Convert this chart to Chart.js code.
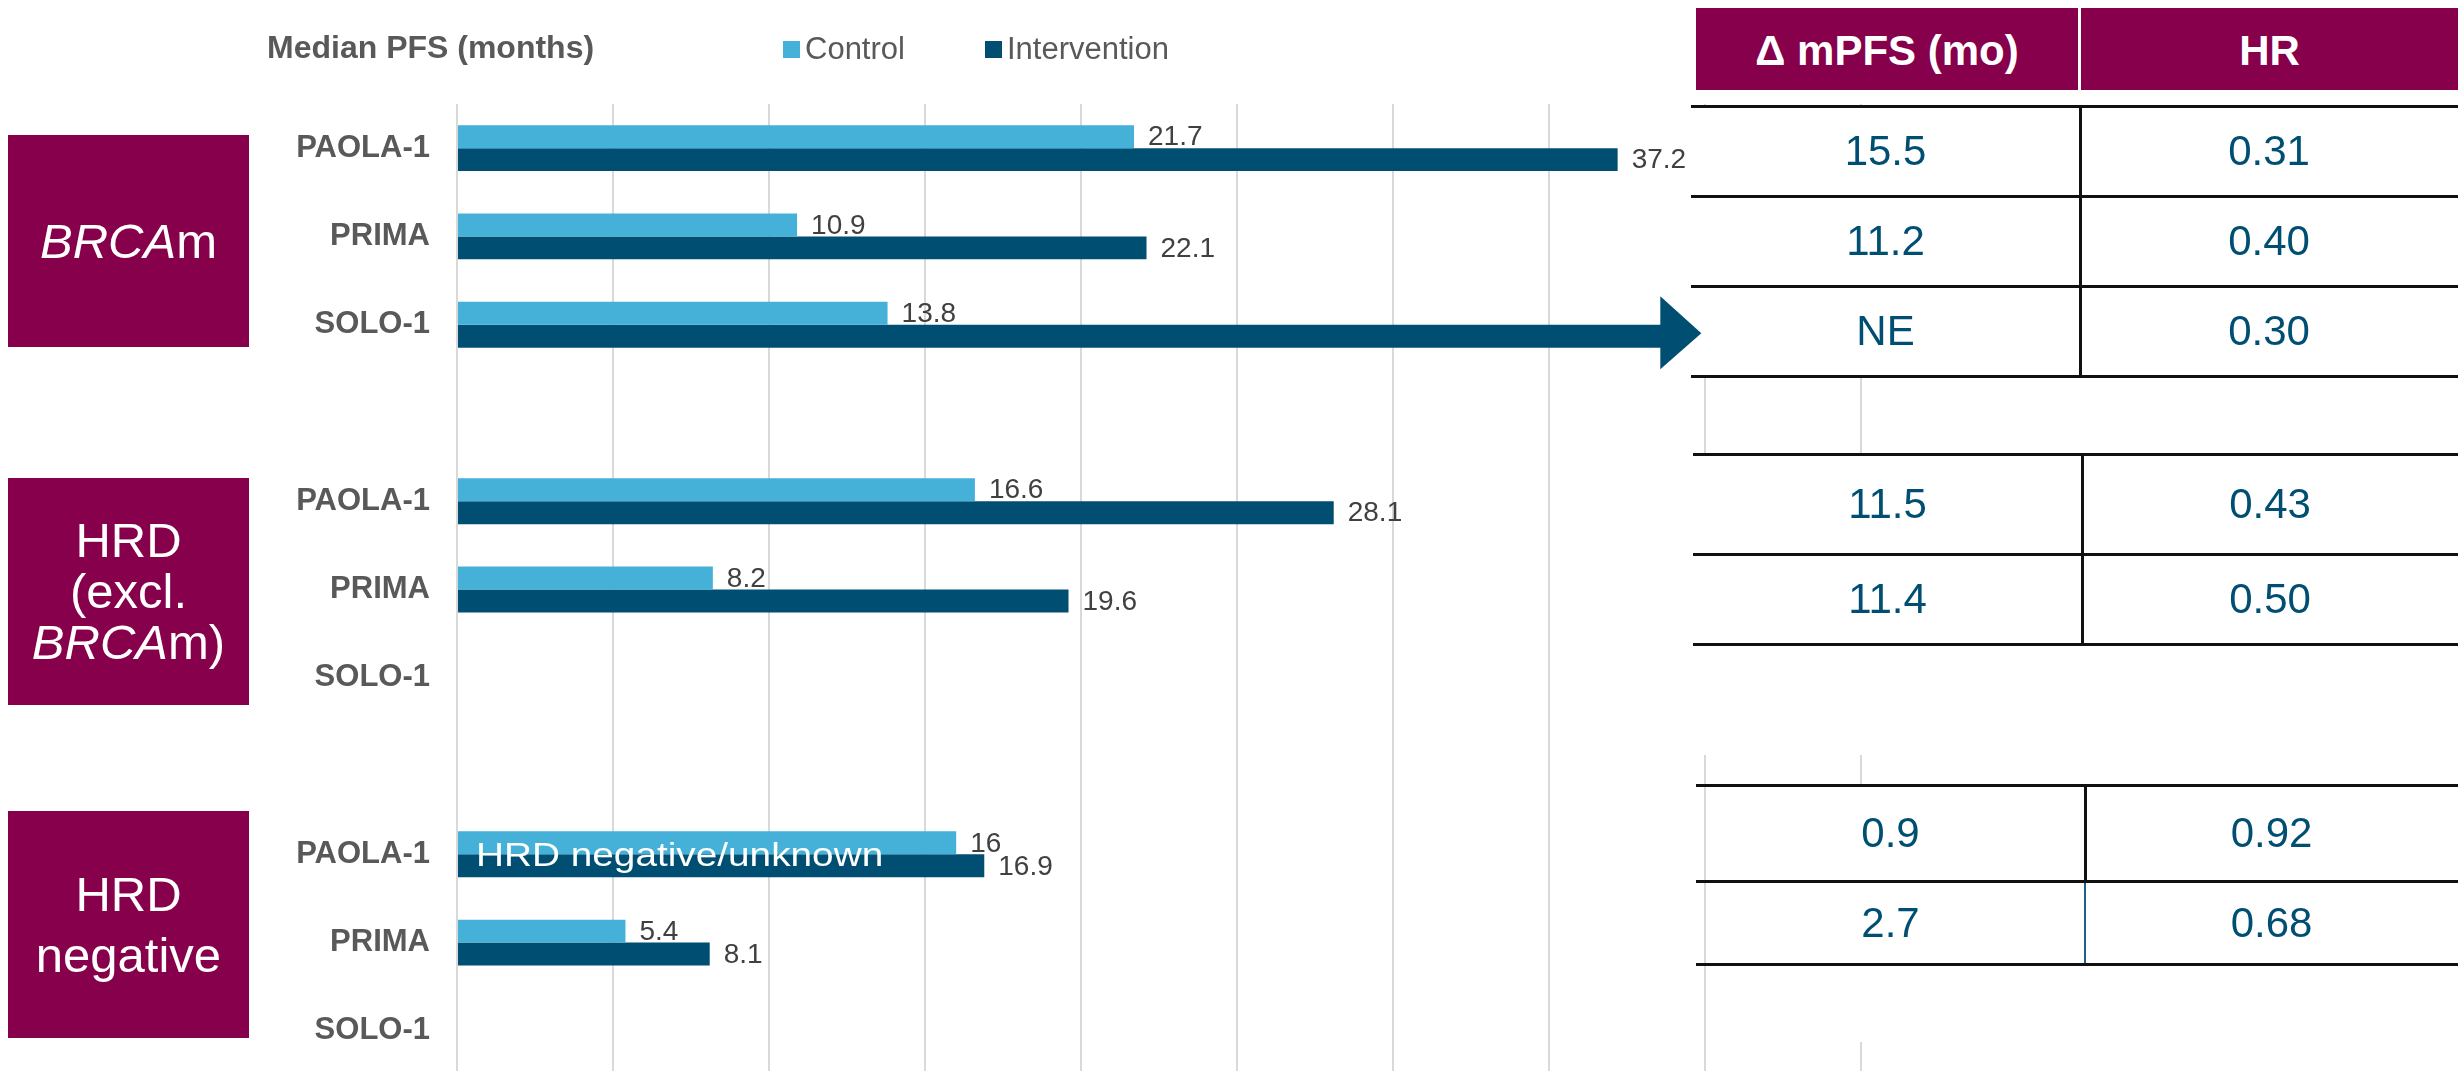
<!DOCTYPE html>
<html>
<head>
<meta charset="utf-8">
<script src="https://cdn.jsdelivr.net/npm/chart.js@4.4.0/dist/chart.umd.min.js"></script>
<style>
  body {
    margin: 0;
    width: 2458px;
    height: 1071px;
    overflow: hidden;
    background: #fff;
    position: relative;
    font-family: "Liberation Sans", Arial, sans-serif;
  }
  #chart { position: absolute; left: 0; top: 0; }
  .abs { position: absolute; }
  .group-box {
    position: absolute;
    left: 8px;
    width: 241px;
    background: #86004c;
    color: #fff;
    font-size: 49px;
    display: flex;
    align-items: center;
    justify-content: center;
    text-align: center;
  }
  .title { font-weight: bold; font-size: 32px; line-height: 32px; color: #595959; white-space: nowrap; }
  .legend-text { font-size: 31px; line-height: 31px; color: #595959; white-space: nowrap; }
  .legend-box { width: 17px; height: 17px; }
  .head {
    background: #86004c;
    color: #fff;
    font-weight: bold;
    font-size: 42px;
    text-align: center;
    box-sizing: border-box;
    padding-top: 3px;
  }
  .cell { text-align: center; font-size: 42px; color: #004f73; white-space: nowrap; }
  .rule { background: #111; }
  .note {
    color: #fff;
    font-size: 34px;
    line-height: 34px;
    white-space: nowrap;
    transform: scaleX(1.14);
    transform-origin: left center;
  }
</style>
</head>
<body>
<canvas id="chart" width="2458" height="1076"></canvas>

<div class="group-box" style="top:135px;height:212px;line-height:55px;"><span><i>BRCA</i>m</span></div>
<div class="group-box" style="top:478px;height:227px;line-height:51px;"><span>HRD<br>(excl.<br><i>BRCA</i>m)</span></div>
<div class="group-box" style="top:811px;height:227px;line-height:61px;"><span>HRD<br>negative</span></div>

<div class="abs title" style="left:267px;top:31px;">Median PFS (months)</div>
<div id="legend"></div>
<div id="table"></div>
<div class="abs note" style="left:476px;top:837px;">HRD negative/unknown</div>

<script>
const categories = ['PAOLA-1', 'PRIMA', 'SOLO-1', '', 'PAOLA-1', 'PRIMA', 'SOLO-1', '', 'PAOLA-1', 'PRIMA', 'SOLO-1'];
const controlPfs = [21.7, 10.9, 13.8, null, 16.6, 8.2, null, null, 16, 5.4, null];
const interventionPfs = [37.2, 22.1, 38.6, null, 28.1, 19.6, null, null, 16.9, 8.1, null];
// median not reached -> bar ends in an arrow, no label
const notReached = [false, false, true, false, false, false, false, false, false, false, false];
const axisMax = 45;
const axisStep = 5;

// right-hand table, one list per block
const tableHeaders = ['Δ mPFS (mo)', 'HR'];
const deltaPfs = [['15.5', '11.2', 'NE'], ['11.5', '11.4'], ['0.9', '2.7']];
const hazardRatios = [['0.31', '0.40', '0.30'], ['0.43', '0.50'], ['0.92', '0.68']];

const CONTROL_COLOR = '#45b1d8';
const INTERVENTION_COLOR = '#004f73';
const FONT = '"Liberation Sans", Arial, sans-serif';

// legend
const legend = document.getElementById('legend');
[['Control', CONTROL_COLOR, 783], ['Intervention', INTERVENTION_COLOR, 985]].forEach(([name, color, x]) => {
  const box = document.createElement('div');
  box.className = 'abs legend-box';
  box.style.cssText = `left:${x}px;top:41px;background:${color};`;
  const text = document.createElement('div');
  text.className = 'abs legend-text';
  text.style.cssText = `left:${x + 22}px;top:33px;`;
  text.textContent = name;
  legend.append(box, text);
});

// table
const table = document.getElementById('table');
const TABLE_RIGHT = 2458;
const tableLayout = [
  { left: 1691, rows: [106, 196, 286, 376], maskBottom: 376, divider: 2080 },
  { left: 1693, rows: [454, 554, 644], maskBottom: 755, divider: 2082 },
  { left: 1696, rows: [785, 881, 964], maskBottom: 1042, divider: 2085, thinLast: true },
];

function addDiv(cls, l, t, w, h, text) {
  const el = document.createElement('div');
  el.className = 'abs ' + cls;
  el.style.left = l + 'px';
  el.style.top = t + 'px';
  el.style.width = w + 'px';
  el.style.height = h + 'px';
  if (text !== undefined) {
    el.style.lineHeight = h + 'px';
    el.textContent = text;
  }
  table.appendChild(el);
  return el;
}

addDiv('head', 1696, 8, 2078 - 1696, 82, tableHeaders[0]).style.lineHeight = '79px';
addDiv('head', 2081, 8, TABLE_RIGHT - 2081, 82, tableHeaders[1]).style.lineHeight = '79px';

tableLayout.forEach((block, b) => {
  const mask = addDiv('', block.left + 11, block.rows[0], TABLE_RIGHT - block.left - 11, block.maskBottom - block.rows[0]);
  mask.style.background = '#fff';
  for (let r = 0; r < block.rows.length - 1; r += 1) {
    const top = block.rows[r];
    const h = block.rows[r + 1] - top;
    addDiv('cell', block.left, top, block.divider - block.left, h, deltaPfs[b][r]);
    addDiv('cell', block.divider, top, TABLE_RIGHT - block.divider, h, hazardRatios[b][r]);
    const last = r === block.rows.length - 2;
    const line = addDiv('rule', block.divider - 1, top, last && block.thinLast ? 1.5 : 2.5, h);
    if (last && block.thinLast) line.style.background = '#1b6288';
  }
  block.rows.forEach((y) => {
    addDiv('rule', block.left, y - 1.5, TABLE_RIGHT - block.left, 3);
  });
});

// chart plugins
const valueLabels = {
  id: 'valueLabels',
  afterDatasetsDraw(chart) {
    const { ctx } = chart;
    ctx.save();
    ctx.font = `28px ${FONT}`;
    ctx.fillStyle = '#404040';
    ctx.textAlign = 'left';
    ctx.textBaseline = 'middle';
    chart.data.datasets.forEach((ds, d) => {
      chart.getDatasetMeta(d).data.forEach((bar, i) => {
        const v = ds.data[i];
        if (v === null || (d === 1 && notReached[i])) return;
        ctx.fillText(String(v), bar.x + 14, bar.y + 1);
      });
    });
    ctx.restore();
  },
};

const arrowHeads = {
  id: 'arrowHeads',
  afterDatasetsDraw(chart) {
    const { ctx } = chart;
    chart.getDatasetMeta(1).data.forEach((bar, i) => {
      if (!notReached[i]) return;
      ctx.save();
      ctx.fillStyle = INTERVENTION_COLOR;
      ctx.beginPath();
      ctx.moveTo(bar.x - 1, bar.y - 40);
      ctx.lineTo(bar.x + 40, bar.y - 3);
      ctx.lineTo(bar.x - 1, bar.y + 33);
      ctx.closePath();
      ctx.fill();
      ctx.restore();
    });
  },
};

new Chart(document.getElementById('chart'), {
  type: 'bar',
  data: {
    labels: categories,
    datasets: [
      {
        label: 'Control',
        data: controlPfs,
        backgroundColor: CONTROL_COLOR,
        categoryPercentage: 0.52,
        barPercentage: 1,
      },
      {
        label: 'Intervention',
        data: interventionPfs,
        backgroundColor: INTERVENTION_COLOR,
        categoryPercentage: 0.52,
        barPercentage: 1,
      },
    ],
  },
  options: {
    indexAxis: 'y',
    responsive: false,
    animation: false,
    layout: {
      padding: { top: 104, right: 2458 - 1861, bottom: 1, left: 0 },
    },
    plugins: {
      legend: { display: false },
      tooltip: { enabled: false },
    },
    scales: {
      x: {
        min: 0,
        max: axisMax,
        ticks: { display: false, stepSize: axisStep },
        grid: { color: '#d9d9d9', lineWidth: 2, drawTicks: false },
        border: { display: false },
        afterFit(scale) {
          scale.height = 0;
          scale.paddingLeft = 0;
          scale.paddingRight = 0;
        },
      },
      y: {
        ticks: {
          color: '#595959',
          font: { family: FONT, size: 31, weight: 'bold' },
          padding: 27,
          autoSkip: false,
        },
        grid: { display: false, drawTicks: false },
        border: { display: false },
        afterFit(scale) {
          scale.width = 457;
          scale.paddingTop = 0;
          scale.paddingBottom = 0;
        },
      },
    },
  },
  plugins: [valueLabels, arrowHeads],
});
</script>
</body>
</html>
